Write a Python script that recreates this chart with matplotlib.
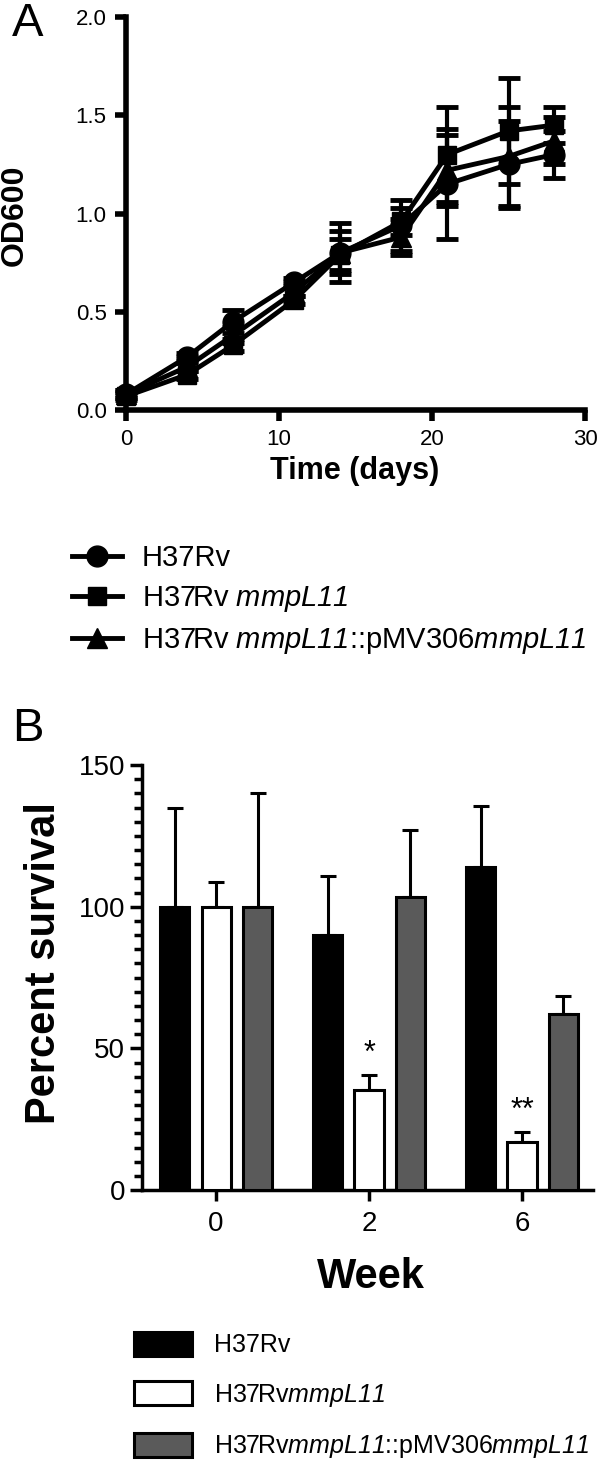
import matplotlib
matplotlib.use("Agg")
import matplotlib.pyplot as plt
import numpy as np

plt.rcParams['font.family'] = ['Liberation Sans', 'DejaVu Sans']
plt.rcParams['mathtext.fontset'] = 'custom'
# math parts are only used for the italic gene names, digits included
plt.rcParams['mathtext.rm'] = 'Liberation Sans:italic'
plt.rcParams['mathtext.it'] = 'Liberation Sans:italic'

# Panel A: growth curves (OD600)
days = [0, 4, 7, 11, 14, 18, 21, 25, 28]
h37rv_od = [0.08, 0.27, 0.45, 0.65, 0.80, 0.94, 1.15, 1.25, 1.30]
h37rv_sd = [0.02, 0.02, 0.06, 0.02, 0.15, 0.13, 0.28, 0.22, 0.12]
mut_od = [0.07, 0.18, 0.33, 0.56, 0.79, 0.96, 1.30, 1.42, 1.45]
mut_sd = [0.02, 0.02, 0.03, 0.02, 0.08, 0.07, 0.24, 0.27, 0.09]
comp_od = [0.08, 0.22, 0.38, 0.60, 0.80, 0.88, 1.22, 1.29, 1.37]
comp_sd = [0.02, 0.02, 0.04, 0.02, 0.11, 0.09, 0.18, 0.25, 0.12]
labels_a = ['H37Rv', r'H37Rv $\mathrm{mmpL11}$',
            r'H37Rv $\mathrm{mmpL11}$::pMV306$\mathrm{mmpL11}$']

# Panel B: percent survival
weeks = ['0', '2', '6']
surv_h37rv = [100, 90, 114]
surv_h37rv_err = [35, 21, 21.5]
surv_mut = [100, 35.3, 17]
surv_mut_err = [8.7, 5.3, 3.5]
surv_comp = [100, 103.5, 62]
surv_comp_err = [40, 23.5, 6.5]
stars = ['', '*', '**']
labels_b = ['H37Rv', r'H37Rv$\mathrm{mmpL11}$',
            r'H37Rv$\mathrm{mmpL11}$::pMV306$\mathrm{mmpL11}$']

W, H = 600, 1466
fig = plt.figure(figsize=(W / 100, H / 100), dpi=100)

# ---------------- panel A ----------------
axA = fig.add_axes([126 / W, 1 - 410 / H, (585 - 126) / W, (410 - 17) / H])
handles = []
for y, e, m, ms in [(h37rv_od, h37rv_sd, 'o', 15),
                    (mut_od, mut_sd, 's', 13),
                    (comp_od, comp_sd, '^', 15)]:
    cont = axA.errorbar(days, y, yerr=e, fmt='-' + m, color='k', lw=3.5,
                        ms=ms, elinewidth=3, capsize=8, capthick=3.5,
                        clip_on=False, zorder=3)
    handles.append(cont[0])

axA.set_xlim(0, 30)
axA.set_ylim(0, 2.0)
axA.set_xticks([0, 10, 20, 30])
axA.set_yticks([0.0, 0.5, 1.0, 1.5, 2.0])
axA.yaxis.set_major_formatter(matplotlib.ticker.FormatStrFormatter('%.1f'))
for s in ['top', 'right']:
    axA.spines[s].set_visible(False)
for s in ['left', 'bottom']:
    axA.spines[s].set_linewidth(4)
axA.tick_params(width=4, length=8, labelsize=16, pad=6)

fig.text(15 / W, 1 - 215 / H, 'OD600', rotation=90, ha='center', va='center',
         fontsize=23, fontweight='bold')
fig.text(355 / W, 1 - 471 / H, 'Time (days)', ha='center', va='center',
         fontsize=22, fontweight='bold')
fig.text(12 / W, 1 - 24 / H, 'A', ha='left', va='center', fontsize=34)

fig.legend(handles, labels_a, loc='upper left',
           bbox_to_anchor=(72 / W, 1 - 544 / H), frameon=False, fontsize=21,
           handlelength=1.7, handletextpad=0.7, labelspacing=0.42,
           borderaxespad=0, borderpad=0)

# ---------------- panel B ----------------
axB = fig.add_axes([142 / W, 1 - 1190 / H, (593 - 142) / W, (1190 - 765) / H])
x = np.arange(len(weeks))
pitch = 0.271
bw = 0.19
kw = dict(edgecolor='k', linewidth=2.2, zorder=3)
ekw = dict(lw=2.2, capsize=6, capthick=2.2)
b1 = axB.bar(x - pitch, surv_h37rv, bw, color='black', **kw)
b2 = axB.bar(x, surv_mut, bw, color='white', **kw)
b3 = axB.bar(x + pitch, surv_comp, bw, color='#5a5a5a', **kw)
for off, vals, errs in [(-pitch, surv_h37rv, surv_h37rv_err),
                        (0, surv_mut, surv_mut_err),
                        (pitch, surv_comp, surv_comp_err)]:
    axB.errorbar(x + off, vals, yerr=[np.zeros(len(vals)), errs], fmt='none',
                 ecolor='k', zorder=2, **ekw)
for i, s in enumerate(stars):
    if s:
        axB.text(x[i], surv_mut[i] + surv_mut_err[i] + 4.5, s, ha='center',
                 va='baseline', fontsize=22)

axB.set_xlim(-0.484, 2.464)
axB.set_ylim(0, 150)
axB.set_xticks(x)
axB.set_xticklabels(weeks)
axB.set_yticks([0, 50, 100, 150])
axB.yaxis.set_minor_locator(matplotlib.ticker.MultipleLocator(5))
for s in ['top', 'right']:
    axB.spines[s].set_visible(False)
for s in ['left', 'bottom']:
    axB.spines[s].set_linewidth(2.5)
axB.tick_params(axis='y', which='major', width=2.5, length=9, labelsize=20, pad=3)
axB.tick_params(axis='y', which='minor', width=2.5, length=6)
axB.tick_params(axis='x', width=2.5, length=8, labelsize=20, pad=7)

fig.text(44 / W, 1 - 963 / H, 'Percent survival', rotation=90, ha='center',
         va='center', fontsize=30, fontweight='bold')
fig.text(371 / W, 1 - 1277 / H, 'Week', ha='center', va='center',
         fontsize=30, fontweight='bold')
fig.text(12 / W, 1 - 729 / H, 'B', ha='left', va='center', fontsize=34)

fig.legend([b1, b2, b3], labels_b, loc='upper left',
           bbox_to_anchor=(134 / W, 1 - 1332 / H), frameon=False, fontsize=18,
           handlelength=2.3, handleheight=1.1, handletextpad=0.9,
           labelspacing=0.95, borderaxespad=0, borderpad=0)

fig.savefig('out.png', dpi=100)
